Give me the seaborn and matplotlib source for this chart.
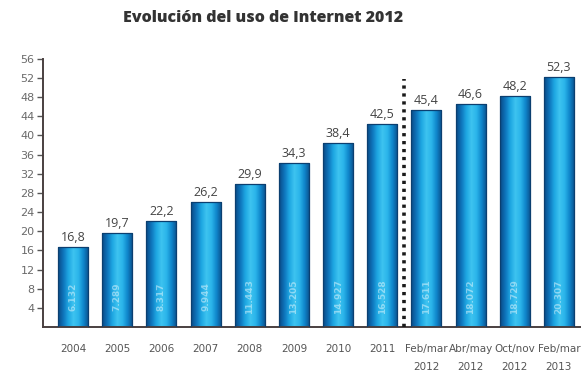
import numpy as np
import pandas as pd
import matplotlib
matplotlib.use("Agg")
import matplotlib.pyplot as plt
from matplotlib.colors import LinearSegmentedColormap
import seaborn as sns

# Internet usage (% of population) and users (thousands) per period
categories = ["2004", "2005", "2006", "2007", "2008", "2009", "2010", "2011",
              "Feb/mar\n2012", "Abr/may\n2012", "Oct/nov\n2012", "Feb/mar\n2013"]
values = [16.8, 19.7, 22.2, 26.2, 29.9, 34.3, 38.4, 42.5, 45.4, 46.6, 48.2, 52.3]
users = ["6.132", "7.289", "8.317", "9.944", "11.443", "13.205", "14.927",
         "16.528", "17.611", "18.072", "18.729", "20.307"]
y_ticks = list(range(4, 57, 4))

df = pd.DataFrame({"periodo": categories, "uso": values})

sns.set_theme(style="white")
plt.rcParams["font.family"] = ["Liberation Sans Narrow", "DejaVu Sans"]

fig = plt.figure(figsize=(5.81, 3.75), dpi=100)
ax = fig.add_axes([0.074, 0.128, 0.926, 0.715])

sns.barplot(data=df, x="periodo", y="uso", ax=ax, width=0.68,
            color="#1a9ad8", saturation=1, zorder=3)

# cylinder-like shading for each bar
cyl = LinearSegmentedColormap.from_list(
    "cyl", ["#0a4a86", "#0e74bb", "#1ea6e2", "#3ec4f0", "#2ab4ea", "#0f86cb", "#0a4f8c"])
grad = np.linspace(0, 1, 64).reshape(1, -1)
for p in ax.patches:
    x0, w, h = p.get_x(), p.get_width(), p.get_height()
    im = ax.imshow(grad, extent=[x0, x0 + w, 0, h], aspect="auto", cmap=cyl,
                   zorder=2.5, origin="lower")
    im.set_clip_path(p)
    p.set_facecolor("none")
    p.set_edgecolor("#0b3f70")
    p.set_linewidth(0.9)

for i, (v, u) in enumerate(zip(values, users)):
    ax.text(i, v + 0.6, f"{v:.1f}".replace(".", ","), ha="center", va="bottom",
            fontsize=9, color="#444444", zorder=5,
            family=["Open Sans", "DejaVu Sans"])
    ax.text(i, 6.3, u, ha="center", va="center", rotation=90, fontsize=6.5,
            color="white", alpha=0.45, fontweight="bold", zorder=5)

# separator between yearly and 2012-2013 periods
ax.vlines(7.5, 0, 51.8, colors="#1a1a1a", linewidth=2.6,
          linestyles=(0, (0.9, 1.3)), zorder=4)

ax.set_xlim(-0.68, 11.5)
ax.set_ylim(0, 56)
ax.set_yticks(y_ticks)
ax.set_yticklabels([str(t) for t in y_ticks], fontsize=8, color="#6a6a6a")
ax.tick_params(axis="y", direction="out", length=4, width=1, color="#555555", pad=2,
               left=True)
ax.tick_params(axis="x", length=0, labelsize=7.5, labelcolor="#555555", pad=12)
for lab in ax.get_xticklabels():
    lab.set_linespacing(2.0)
ax.set_xlabel("")
ax.set_ylabel("")
for s in ["top", "right"]:
    ax.spines[s].set_visible(False)
for s in ["left", "bottom"]:
    ax.spines[s].set_color("#4a4040")
    ax.spines[s].set_linewidth(1.4)

fig.text(0.453, 0.952, "Evolución del uso de Internet 2012", ha="center", va="center",
         fontsize=11.5, fontweight="heavy", color="#333333",
         family=["Open Sans", "DejaVu Sans"])

fig.savefig("out.png", dpi=100, facecolor="white")
